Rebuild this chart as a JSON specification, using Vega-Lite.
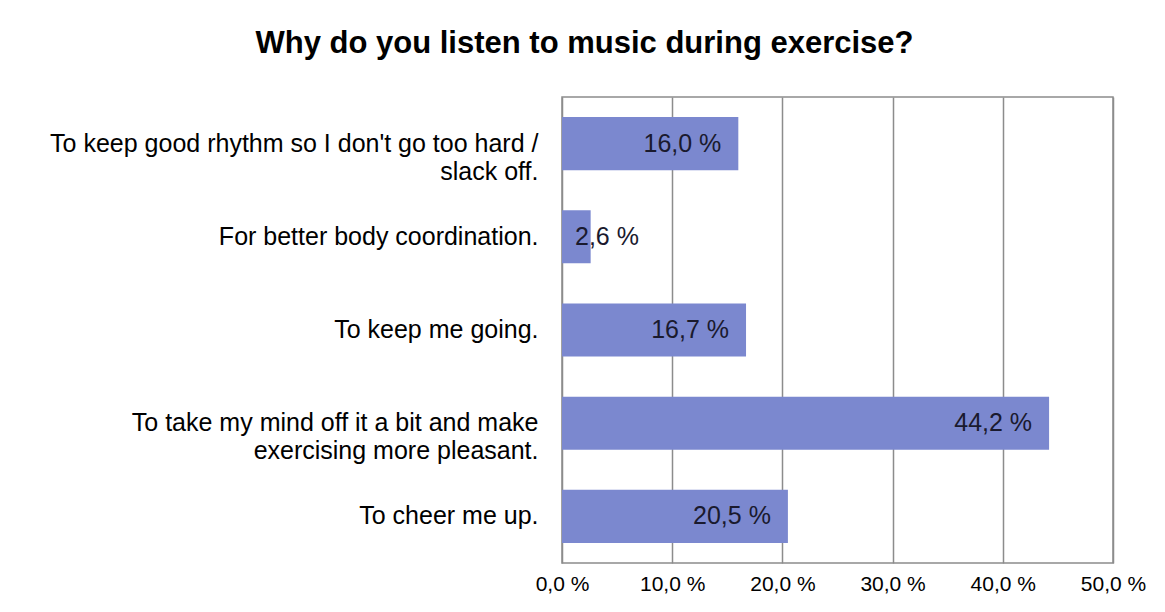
{
  "$schema": "https://vega.github.io/schema/vega-lite/v6.json",
  "autosize": {"type": "none"},
  "width": 551,
  "height": 466,
  "padding": {"left": 562, "top": 97, "right": 52, "bottom": 49},
  "background": "white",
  "title": {
    "text": "Why do you listen to music during exercise?",
    "font": "Liberation Sans",
    "fontSize": 31,
    "fontWeight": "bold",
    "color": "#000000",
    "anchor": "middle",
    "baseline": "alphabetic",
    "offset": 13,
    "dx": -253
  },
  "data": {
    "values": [
      {"reason": "To keep good rhythm so I don't go too hard /\nslack off.", "pct": 16.0, "label": "16,0 %"},
      {"reason": "For better body coordination.", "pct": 2.6, "label": "2,6 %"},
      {"reason": "To keep me going.", "pct": 16.7, "label": "16,7 %"},
      {"reason": "To take my mind off it a bit and make\nexercising more pleasant.", "pct": 44.2, "label": "44,2 %"},
      {"reason": "To cheer me up.", "pct": 20.5, "label": "20,5 %"}
    ]
  },
  "encoding": {
    "y": {
      "field": "reason",
      "type": "nominal",
      "sort": null,
      "scale": {"paddingInner": 0.43, "paddingOuter": 0.215},
      "axis": {
        "title": null,
        "ticks": false,
        "domain": false,
        "labelExpr": "split(datum.label, '\\n')",
        "labelFont": "Liberation Sans",
        "labelFontSize": 25,
        "labelColor": "#000000",
        "labelPadding": 24,
        "labelLimit": 700,
        "labelLineHeight": 28
      }
    }
  },
  "layer": [
    {
      "mark": {"type": "bar", "color": "#7b88cf"},
      "encoding": {
        "x": {
          "field": "pct",
          "type": "quantitative",
          "scale": {"domain": [0, 50], "nice": false},
          "axis": {
            "title": null,
            "values": [0, 10, 20, 30, 40, 50],
            "labelExpr": "replace(format(datum.value, '.1f'), '.', ',') + ' %'",
            "grid": true,
            "gridColor": "#8c8c8c",
            "gridWidth": 1.5,
            "gridOpacity": 1,
            "ticks": false,
            "domain": false,
            "labelFont": "Liberation Sans",
            "labelFontSize": 21,
            "labelColor": "#000000",
            "labelPadding": 10,
            "labelFlush": false
          }
        }
      }
    },
    {
      "transform": [{"filter": "datum.pct >= 5"}],
      "mark": {"type": "text", "align": "right", "baseline": "middle", "dx": -17, "font": "Liberation Sans", "fontSize": 25, "color": "#1a1a2e"},
      "encoding": {
        "x": {"field": "pct", "type": "quantitative"},
        "text": {"field": "label"}
      }
    },
    {
      "transform": [{"filter": "datum.pct < 5"}],
      "mark": {"type": "text", "align": "left", "baseline": "middle", "dx": 13, "font": "Liberation Sans", "fontSize": 25, "color": "#1a1a2e"},
      "encoding": {
        "x": {"datum": 0, "type": "quantitative"},
        "text": {"field": "label"}
      }
    }
  ],
  "config": {
    "view": {"stroke": "#8c8c8c", "strokeWidth": 1.5}
  }
}
